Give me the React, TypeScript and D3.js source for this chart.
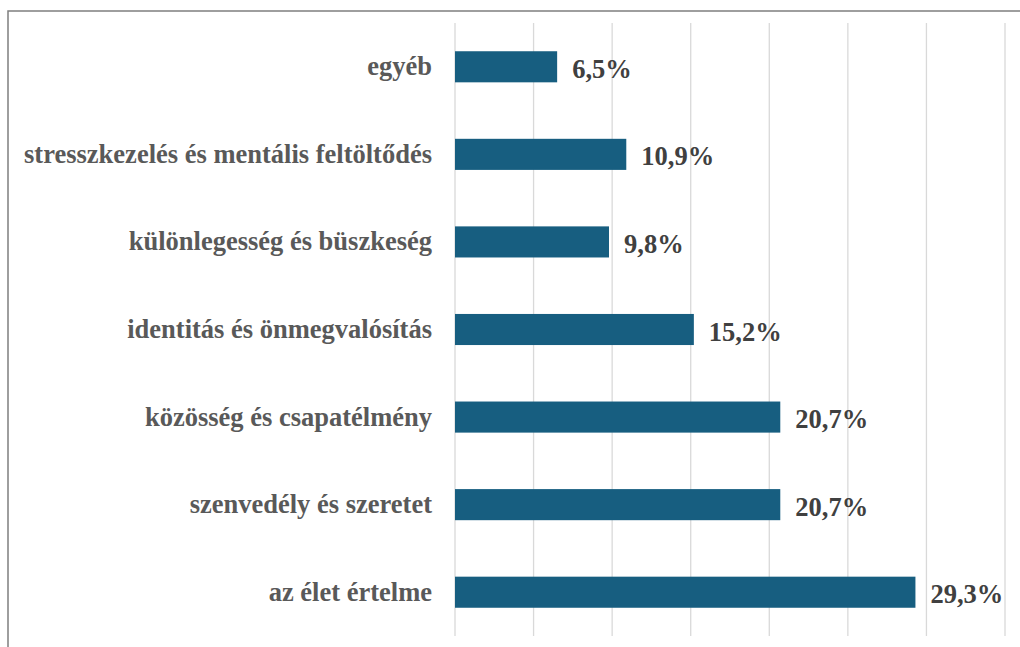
import * as React from 'react';
import * as d3 from 'd3';

const categories = [
  'egyéb',
  'stresszkezelés és mentális feltöltődés',
  'különlegesség és büszkeség',
  'identitás és önmegvalósítás',
  'közösség és csapatélmény',
  'szenvedély és szeretet',
  'az élet értelme',
];
const values = [6.5, 10.9, 9.8, 15.2, 20.7, 20.7, 29.3];
const gridTicks = [0, 5, 10, 15, 20, 25, 30, 35];

const width = 1020;
const height = 647;
const margin = { top: 23, right: 15, bottom: 11, left: 455 };

export default function App() {
  const x = d3.scaleLinear().domain([0, 35]).range([margin.left, width - margin.right]);
  const y = d3
    .scaleBand<string>()
    .domain(categories)
    .range([margin.top, height - margin.bottom])
    .paddingInner(0.645)
    .paddingOuter(0.3225);

  const font = '"Liberation Serif", "Times New Roman", serif';
  const fmt = (v: number) => v.toFixed(1).replace('.', ',') + '%';

  return (
    <svg
      width={width}
      height={height}
      style={{ position: 'absolute', left: 0, top: 0, background: '#fff' }}
    >
      <rect x={8} y={11} width={width + 10} height={height + 10} fill="#fff" stroke="#7f7f7f" strokeWidth={1.5} />
      {gridTicks.map(t => (
        <line
          key={t}
          x1={x(t)}
          x2={x(t)}
          y1={margin.top}
          y2={height - margin.bottom}
          stroke="#d9d9d9"
          strokeWidth={1.3}
        />
      ))}
      {categories.map((c, i) => {
        const yc = (y(c) as number) + y.bandwidth() / 2;
        return (
          <g key={c}>
            <rect
              x={x(0)}
              y={y(c)}
              width={x(values[i]) - x(0)}
              height={y.bandwidth()}
              fill="#175e80"
            />
            <text
              x={x(0) - 23}
              y={yc}
              dy="0.32em"
              textAnchor="end"
              fontFamily={font}
              fontWeight="bold"
              fontSize={26.5}
              fill="#595959"
            >
              {c}
            </text>
            <text
              x={x(values[i]) + 15}
              y={yc}
              dy="0.42em"
              fontFamily={font}
              fontWeight="bold"
              fontSize={26.5}
              fill="#404040"
            >
              {fmt(values[i])}
            </text>
          </g>
        );
      })}
    </svg>
  );
}
